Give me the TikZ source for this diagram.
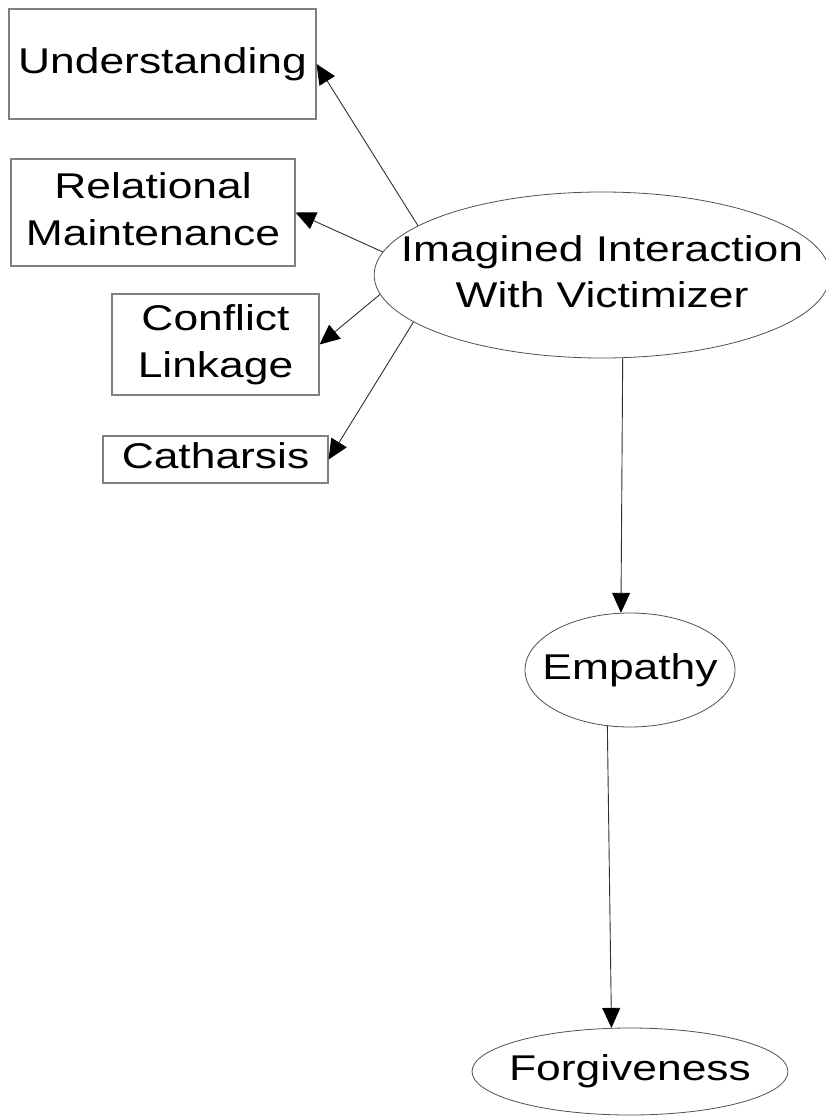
\documentclass[tikz,border=0pt]{standalone}
\usepackage{fontspec}
\setmainfont[FakeStretch=1.24]{Liberation Sans}
\usetikzlibrary{arrows.meta,shapes.geometric}
\definecolor{boxline}{HTML}{808080}
\definecolor{ellline}{HTML}{505050}
\definecolor{conline}{HTML}{303030}
\begin{document}
\begin{tikzpicture}[x=1pt,y=-1pt,
  lbl/.style={font=\fontsize{35.8}{46.5}\selectfont, align=center, text=black},
  boxnode/.style={lbl, draw=boxline, line width=1.1pt, rectangle, inner sep=0pt},
  ellnode/.style={lbl, draw=ellline, line width=0.8pt, ellipse, inner xsep=-40pt, inner ysep=-20pt},
  conn/.style={draw=conline, line width=0.9pt, -{Triangle[length=20pt,width=18pt,fill=black,color=black]}}]
\useasboundingbox (0,0) rectangle (826,1116);
\node[boxnode, minimum width=307pt, minimum height=110pt] (und) at (162.5,64) {\strut Understanding};
\node[boxnode, minimum width=284pt, minimum height=107pt] (rel) at (153,212.5) {\strut Relational\\\strut Maintenance};
\node[boxnode, minimum width=207pt, minimum height=101pt] (conf) at (215.5,344.5) {\strut Conflict\\\strut Linkage};
\node[boxnode, minimum width=225pt, minimum height=47pt] (cath) at (215.5,459.5) {\strut Catharsis};
\node[ellnode, minimum width=448pt, minimum height=166pt] (imag) at (602,275) {\strut Imagined Interaction\\\strut With Victimizer};
\node[ellnode, minimum width=210pt, minimum height=114pt] (emp) at (630,670) {\strut Empathy};
\node[ellnode, minimum width=316pt, minimum height=87pt] (forg) at (630,1071.5) {\strut Forgiveness};
\draw[conn] (imag.165.2) -- (und.east);
\draw[conn] (imag.174.8) -- (rel.east);
\draw[conn] (imag.-175.3) -- (conf.east);
\draw[conn] (imag.-166.8) -- (cath.east);
\draw[conn] (imag.-76.5) -- (emp.99);
\draw[conn] (emp.248) -- (forg.113.6);
\end{tikzpicture}
\end{document}
